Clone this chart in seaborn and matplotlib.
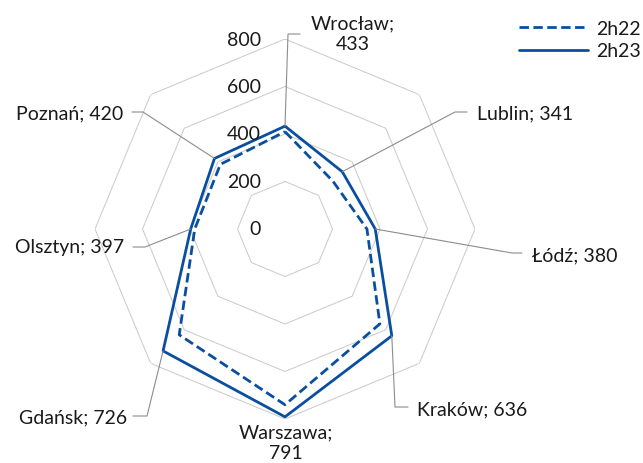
import numpy as np
import pandas as pd
import seaborn as sns
import matplotlib.pyplot as plt
from matplotlib.lines import Line2D

# regional values, 2h22, 2h23 from the labels
cities = ["Wrocław", "Lublin", "Łódź", "Kraków", "Warszawa", "Gdańsk", "Olsztyn", "Poznań"]
h22 = [410, 285, 345, 565, 740, 630, 380, 385]
h23 = [433, 341, 380, 636, 791, 726, 397, 420]
rings = [200, 400, 600, 800]
tick_values = [0, 200, 400, 600, 800]

BLUE = "#0a4f9f"
GRID = "#cccccc"
LEADER = "#8c8c8c"
TXT = "#1a1a1a"
W, H = 643, 464
FS = 14

sns.set_theme(style="white")
plt.rcParams["font.family"] = ["Lato", "DejaVu Sans"]
plt.rcParams["text.color"] = TXT

angles = np.linspace(0, 2 * np.pi, len(cities), endpoint=False)
closed = np.append(angles, 2 * np.pi)

rows = []
for name, vals in [("2h22", h22), ("2h23", h23)]:
    for a, v in zip(closed, vals + vals[:1]):
        rows.append({"angle": a, "value": v, "series": name})
df = pd.DataFrame(rows)

fig = plt.figure(figsize=(W / 100, H / 100), dpi=100)
cx, cy, R = 285, 230, 190
ax = fig.add_axes([(cx - R) / W, (H - cy - R) / H, 2 * R / W, 2 * R / H], projection="polar")
ax.set_theta_zero_location("N")
ax.set_theta_direction(-1)

for v in rings:
    ax.plot(closed, [v] * len(closed), color=GRID, lw=0.75, zorder=1)

sns.lineplot(data=df, x="angle", y="value", hue="series", style="series",
             palette=[BLUE, BLUE], dashes={"2h22": (3.4, 1.6), "2h23": ""},
             sort=False, estimator=None, lw=2.0, ax=ax, zorder=3)

ax.set_ylim(0, 800)
ax.grid(False)
ax.spines["polar"].set_visible(False)
ax.set_xticks([])
ax.set_yticks([])
ax.set_xlabel("")
ax.set_ylabel("")
ax.patch.set_alpha(0)

for v in tick_values:
    ax.annotate(str(v), xy=(0, v), xytext=(-24 * 0.72, 0), textcoords="offset points",
                ha="right", va="center", fontsize=FS)

# label layout in image pixels: elbow, stub end, text anchor, alignment
layout = {
    "Wrocław": ((288, 35), (300, 35), (353, 34), "center"),
    "Lublin": ((455, 113), (467, 113), (477, 114), "left"),
    "Łódź": ((512, 254), (522, 254), (532, 256), "left"),
    "Kraków": ((395, 408), (408, 408), (417, 410), "left"),
    "Warszawa": (None, None, (286, 443), "center"),
    "Gdańsk": ((147, 417), (133, 417), (127, 418), "right"),
    "Olsztyn": ((145, 248), (133, 248), (124, 248), "right"),
    "Poznań": ((143, 113), (132, 113), (123, 114), "right"),
}

for name, a, v in zip(cities, angles, h23):
    elbow, stub, tpos, ha = layout[name]
    if elbow is not None:
        px, py = ax.transData.transform((a, v))
        xs = [px / W, elbow[0] / W, stub[0] / W]
        ys = [py / H, 1 - elbow[1] / H, 1 - stub[1] / H]
        fig.add_artist(Line2D(xs, ys, transform=fig.transFigure, color=LEADER, lw=0.8))
    sep = "\n" if name in ("Wrocław", "Warszawa") else " "
    fig.text(tpos[0] / W, 1 - tpos[1] / H, f"{name};{sep}{v}", ha=ha, va="center",
             multialignment="center", fontsize=FS, linespacing=1.3)

sns.move_legend(ax, "center left", bbox_to_anchor=(519 / W, 1 - 40.5 / H),
                bbox_transform=fig.transFigure, title=None, frameon=False,
                handlelength=3.55, handletextpad=0.4, labelspacing=0.3,
                borderpad=0, borderaxespad=0, fontsize=FS)

fig.savefig("out.png", dpi=100, facecolor="white")
